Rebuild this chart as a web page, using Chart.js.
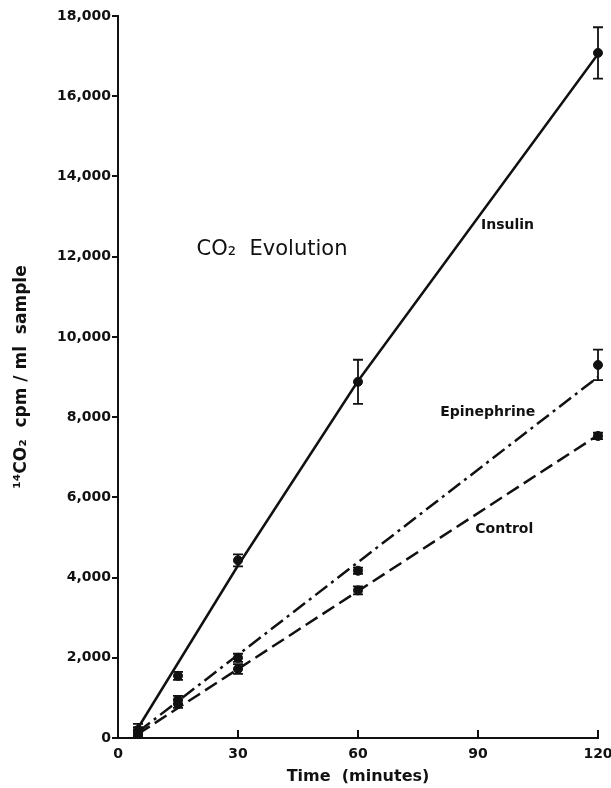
<!DOCTYPE html>
<html>
<head>
<meta charset="utf-8">
<script src="https://cdn.jsdelivr.net/npm/chart.js@4.4.1/dist/chart.umd.min.js"></script>
<style>
  html, body { margin: 0; padding: 0; background: #fff; }
  #wrap { width: 611px; height: 788px; }
</style>
</head>
<body>
<div id="wrap"><canvas id="chart1"></canvas></div>
<script>
// sampling times (minutes)
var times = [5, 15, 30, 60, 120];

// measured means and error bars (14CO2 cpm/ml sample)
var insulinMean = [200, 1550, 4430, 8880, 17080];
var insulinErr = [150, 100, 150, 550, 640];
var epiMean = [150, 950, 2000, 4170, 9300];
var epiErr = [120, 100, 100, 80, 380];
var controlMean = [100, 850, 1720, 3680, 7530];
var controlErr = [100, 100, 120, 100, 80];

// drawn lines
var insulinLineX = [5, 30, 60, 120];
var insulinLineY = [250, 4300, 8900, 17050];
var epiLineX = [5, 120];
var epiLineY = [150, 9000];
var controlLineX = [5, 120];
var controlLineY = [100, 7550];

var xTicks = [0, 30, 60, 90, 120];

var FONT = "'DejaVu Sans', sans-serif";
var INK = '#111';

function pts(xs, ys) {
    var out = [];
    for (var i = 0; i < xs.length; i++) out.push({x: xs[i], y: ys[i]});
    return out;
}

function lineSet(label, xs, ys, dash) {
    return {
        type: 'line', label: label, data: pts(xs, ys),
        borderColor: INK, borderWidth: 2.5, borderDash: dash,
        pointRadius: 0, fill: false, tension: 0, clip: false
    };
}

function pointSet(label, ys, errs) {
    return {
        type: 'scatter', label: label, data: pts(times, ys), errors: errs,
        backgroundColor: INK, borderColor: INK, pointRadius: 4.5,
        pointHoverRadius: 4.5, clip: false
    };
}

// text placed in data coordinates
var labels = [
    {text: 'CO\u2082  Evolution', x: 38.5, y: 12170, font: '21px ' + FONT, align: 'center'},
    {text: 'Insulin', x: 104, y: 12790, font: 'bold 14px ' + FONT, align: 'right'},
    {text: 'Epinephrine', x: 104.3, y: 8130, font: 'bold 14px ' + FONT, align: 'right'},
    {text: 'Control', x: 103.8, y: 5190, font: 'bold 14px ' + FONT, align: 'right'}
];

var extras = {
    id: 'extras',
    beforeDatasetsDraw: function(chart) {
        var ctx = chart.ctx, xs = chart.scales.x, ys = chart.scales.y;
        ctx.save();
        ctx.strokeStyle = INK;
        ctx.lineWidth = 1.8;
        chart.data.datasets.forEach(function(ds) {
            if (!ds.errors) return;
            ds.data.forEach(function(p, i) {
                var px = xs.getPixelForValue(p.x);
                var top = ys.getPixelForValue(p.y + ds.errors[i]);
                var bot = ys.getPixelForValue(p.y - ds.errors[i]);
                ctx.beginPath();
                ctx.moveTo(px, top); ctx.lineTo(px, bot);
                ctx.moveTo(px - 5, top); ctx.lineTo(px + 5, top);
                ctx.moveTo(px - 5, bot); ctx.lineTo(px + 5, bot);
                ctx.stroke();
            });
        });
        // inward ticks on the time axis
        ctx.lineWidth = 2;
        var base = ys.getPixelForValue(0);
        xTicks.forEach(function(t) {
            if (t === 0) return;
            var px = xs.getPixelForValue(t);
            ctx.beginPath();
            ctx.moveTo(px, base); ctx.lineTo(px, base - 8);
            ctx.stroke();
        });
        ctx.restore();
    },
    afterDraw: function(chart) {
        var ctx = chart.ctx, xs = chart.scales.x, ys = chart.scales.y;
        ctx.save();
        ctx.fillStyle = INK;
        ctx.textBaseline = 'middle';
        labels.forEach(function(l) {
            ctx.font = l.font;
            ctx.textAlign = l.align;
            ctx.fillText(l.text, xs.getPixelForValue(l.x), ys.getPixelForValue(l.y));
        });
        ctx.restore();
    }
};

var ctx = document.getElementById('chart1');
var myChart = new Chart(ctx, {
    data: {
        datasets: [
            lineSet('Insulin line', insulinLineX, insulinLineY, []),
            lineSet('Epinephrine line', epiLineX, epiLineY, [15, 5, 3, 5]),
            lineSet('Control line', controlLineX, controlLineY, [14, 6]),
            pointSet('Insulin', insulinMean, insulinErr),
            pointSet('Epinephrine', epiMean, epiErr),
            pointSet('Control', controlMean, controlErr)
        ]
    },
    options: {
        responsive: true,
        maintainAspectRatio: false,
        animation: false,
        layout: {padding: {top: 16, right: 13, left: 0, bottom: 0}},
        plugins: {legend: {display: false}, tooltip: {enabled: false}},
        scales: {
            x: {
                type: 'linear', min: 0, max: 120,
                afterFit: function(s) { s.height = 50; s.paddingLeft = 0; s.paddingRight = 0; },
                afterBuildTicks: function(s) { s.ticks = xTicks.map(function(v) { return {value: v}; }); },
                border: {display: true, color: INK, width: 2},
                grid: {display: false},
                ticks: {color: INK, font: {family: FONT, size: 14, weight: 'bold'}, padding: 0, maxRotation: 0},
                title: {display: true, text: 'Time  (minutes)', color: INK,
                        font: {family: FONT, size: 16, weight: 'bold'}, padding: {top: 0, bottom: 2}}
            },
            y: {
                type: 'linear', min: 0, max: 18000,
                afterFit: function(s) { s.width = 118; s.paddingTop = 0; s.paddingBottom = 0; },
                border: {display: true, color: INK, width: 2},
                grid: {drawOnChartArea: false, drawTicks: true, tickLength: 6, color: INK, lineWidth: 2},
                ticks: {stepSize: 2000, color: INK, font: {family: FONT, size: 14, weight: 'bold'}, padding: 1,
                        callback: function(v) { return v.toLocaleString('en-US'); }},
                title: {display: true, text: '\u00B9\u2074CO\u2082  cpm / ml  sample', color: INK,
                        font: {family: FONT, size: 17, weight: 'bold'}, padding: {top: 11, bottom: 0}}
            }
        }
    },
    plugins: [extras]
});
</script>
</body>
</html>
